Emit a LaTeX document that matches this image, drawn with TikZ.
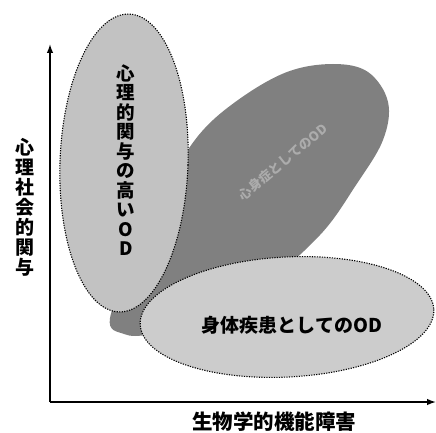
\documentclass[tikz,border=0pt]{standalone}
\usepackage{fontspec}
\newfontfamily\jp{Noto Sans CJK JP}
\usetikzlibrary{arrows.meta}
\begin{document}
\begin{tikzpicture}[x=1pt,y=-1pt,
  lbl/.style={font=\jp\bfseries\fontsize{18.5}{19.5}\selectfont, align=center, inner sep=0pt},
  region/.style={draw=black, dash pattern=on 1.2pt off 1.3pt, line width=1.1pt},
  axis/.style={line width=1.4pt, -{Latex[length=9pt,width=6.5pt]}}]
\useasboundingbox (0,0) rectangle (436,433);
% dark (middle) region
\fill[black!50] plot[smooth cycle, tension=0.6] coordinates {
  (110,318) (138,252) (165,190) (198,136) (238,100) (287,72) (333,64)
  (368,72) (388,102) (383,140) (356,185) (320,235) (262,285) (195,318)
  (150,334) (124,334)};
\node[font=\jp\bfseries\fontsize{13}{13}\selectfont, text=white, opacity=0.35, rotate=40, inner sep=0pt] (mid) at (283,162) {心身症としてのOD};
% left region
\path[region, fill=black!24, rotate around={-2:(124,163)}] (124,163) ellipse [x radius=64, y radius=149];
% bottom region
\path[region, fill=black!20, rotate around={3:(287,317)}] (287,317) ellipse [x radius=147, y radius=60];
% labels in regions
\node[lbl] (psy) at (126,160) {心\\理\\的\\関\\与\\の\\高\\い\\O\\D};
\node[lbl, font=\jp\bfseries\fontsize{19}{19}\selectfont] (body) at (292,325) {身体疾患としてのOD};
% axes
\coordinate (o) at (50,402);
\coordinate (ytop) at (50,44);
\coordinate (xend) at (436,402);
\draw[axis] (o) -- (ytop);
\draw[axis] (o) -- (xend);
\node[lbl, font=\jp\bfseries\fontsize{19}{20}\selectfont] (ylab) at (25,207) {心\\理\\社\\会\\的\\関\\与};
\node[lbl, font=\jp\bfseries\fontsize{20.5}{20.5}\selectfont] (xlab) at (274,422) {生物学的機能障害};
\end{tikzpicture}
\end{document}
